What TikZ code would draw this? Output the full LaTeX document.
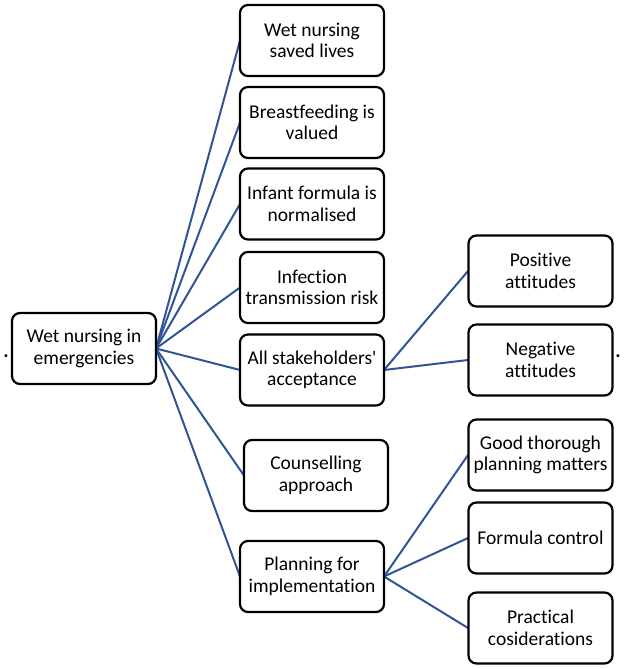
\documentclass[tikz,border=0pt]{standalone}
\usepackage{fontspec}
\setmainfont[Ligatures={NoCommon,TeXOff}]{Carlito}
\begin{document}
\begin{tikzpicture}[x=1pt,y=-1pt,
  box/.style={draw=black, line width=2.2pt, rounded corners=8pt, fill=white,
    minimum width=144pt, minimum height=71pt, inner sep=0pt, align=center,
    font=\fontsize{19.5pt}{21.5pt}\selectfont},
  link/.style={draw={rgb,255:red,47;green,85;blue,151}, line width=2pt},
  dot/.style={inner sep=0pt, anchor=base, font=\bfseries\fontsize{20pt}{22pt}\selectfont}]
\useasboundingbox (0,0) rectangle (624,669);
% links first
\coordinate (rootE) at (156,348.5);
\coordinate (w1W) at (240,40.5);
\coordinate (w2W) at (240,122.5);
\coordinate (w3W) at (240,204);
\coordinate (w4W) at (240,287.5);
\coordinate (w5W) at (240,370);
\coordinate (w6W) at (244,475.5);
\coordinate (w7W) at (240,576.5);
\coordinate (w5E) at (384,370);
\coordinate (w7E) at (384,576.5);
\coordinate (c1W) at (468,271);
\coordinate (c2W) at (468,360);
\coordinate (c3W) at (468,455);
\coordinate (c4W) at (468,538);
\coordinate (c5W) at (468,628);
\foreach \t in {w1W,w2W,w3W,w4W,w5W,w6W,w7W} \draw[link] (rootE) -- (\t);
\foreach \t in {c1W,c2W} \draw[link] (w5E) -- (\t);
\foreach \t in {c3W,c4W,c5W} \draw[link] (w7E) -- (\t);
% boxes
\node[box] (root) at (84,348.5) {Wet nursing in\\emergencies};
\node[box] (w1) at (312,40.5) {Wet nursing\\saved lives};
\node[box] (w2) at (312,122.5) {Breastfeeding is\\valued};
\node[box] (w3) at (312,204) {Infant formula is\\normalised};
\node[box] (w4) at (312,287.5) {Infection\\transmission risk};
\node[box] (w5) at (312,370) {All stakeholders'\\acceptance};
\node[box] (w6) at (316,475.5) {Counselling\\approach};
\node[box] (w7) at (312,576.5) {Planning for\\implementation};
\node[box] (c1) at (540.5,271) {Positive\\attitudes};
\node[box] (c2) at (540.5,360) {Negative\\attitudes};
\node[box] (c3) at (540.5,455) {Good thorough\\planning matters};
\node[box] (c4) at (540.5,538) {Formula control};
\node[box] (c5) at (540.5,628) {Practical\\cosiderations};
\node[dot] (d1) at (6,357) {.};
\node[dot] (d2) at (618,357) {.};
\end{tikzpicture}
\end{document}
